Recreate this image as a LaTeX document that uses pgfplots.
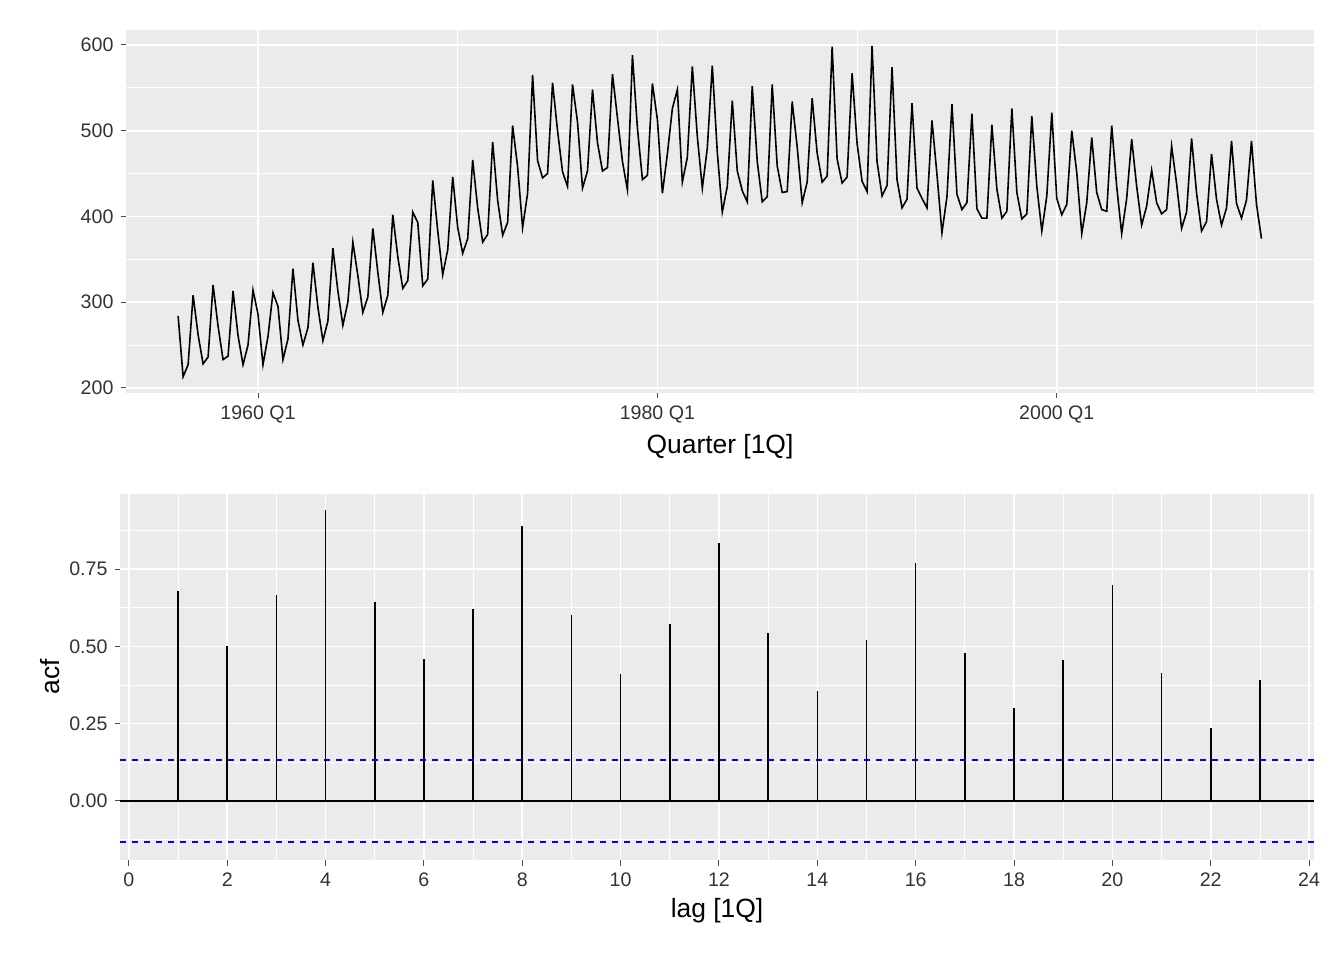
\documentclass[border=0pt]{standalone}
\usepackage{pgfplots}
\pgfplotsset{compat=1.18}
\usepackage{pgfplotstable}
\usepackage{fontspec}
\setmainfont{Liberation Sans}
\definecolor{bg}{gray}{0.92}
\definecolor{tk}{gray}{0.30}
\definecolor{tc}{gray}{0.2}
\pgfplotstableread{
v
284
213
227
308
262
228
236
320
272
233
237
313
261
227
250
314
286
227
260
311
295
233
257
339
279
250
270
346
294
255
278
363
313
273
300
370
331
288
306
386
335
288
308
402
353
316
325
405
393
319
327
442
383
332
361
446
387
357
374
466
410
370
379
487
419
378
393
506
458
387
427
565
465
445
450
556
500
452
435
554
510
433
453
548
486
453
457
566
515
464
431
588
503
443
448
555
513
427
473
526
548
440
469
575
493
433
480
576
475
405
435
535
453
430
417
552
464
417
423
554
459
428
429
534
481
416
440
538
474
440
447
598
467
439
446
567
485
441
429
599
464
424
436
574
443
410
420
532
433
421
410
512
449
381
423
531
426
408
416
520
409
398
398
507
432
398
406
526
428
397
403
517
435
383
424
521
421
402
414
500
451
380
416
492
428
408
406
506
435
380
421
490
435
390
412
454
416
403
408
482
438
386
405
491
427
383
394
473
420
390
410
488
415
398
419
488
414
374
}\beer
\pgfplotstableread{
lag acf
1 0.68
2 0.50
3 0.665
4 0.94
5 0.645
6 0.46
7 0.62
8 0.89
9 0.60
10 0.41
11 0.572
12 0.835
13 0.543
14 0.355
15 0.52
16 0.77
17 0.48
18 0.30
19 0.455
20 0.70
21 0.415
22 0.235
23 0.39
}\acf
\pgfplotsset{gg/.style={
  scale only axis, axis background/.style={fill=bg}, axis line style={draw=none},
  grid=both, major grid style={white, line width=0.8pt}, minor grid style={white, line width=0.4pt},
  tick align=outside, major tick length=2.75pt, minor tick length=0pt,
  tick style={tk, line width=0.5pt}, ticklabel style={font=\fontsize{9.8}{11}\selectfont, text=tc},
  /pgf/number format/assume math mode=true,
  label style={font=\fontsize{13.2}{15}\selectfont},
  xtick pos=bottom, ytick pos=left,
}}
\begin{document}
\begin{tikzpicture}
\path (0,0) rectangle (672pt,480pt);
\begin{axis}[gg, anchor=south west, at={(63pt,283.5pt)}, width=594pt, height=181.5pt,
  xmin=1953.39, xmax=2012.88, ymin=194, ymax=617.5,
  xtick={1960,1980,2000}, xticklabels={1960 Q1,1980 Q1,2000 Q1},
  minor xtick={1970,1990,2010}, ytick={200,300,400,500,600}, minor ytick={250,350,450,550},
  xlabel={Quarter [1Q]}, xlabel style={yshift=1pt}]
\addplot[black, line width=0.8pt, mark=none] table[x expr=1956+\coordindex/4, y=v]{\beer};
\end{axis}
\begin{axis}[gg, anchor=south west, at={(60pt,50pt)}, width=597pt, height=183pt,
  xmin=-0.18, xmax=24.1, ymin=-0.191, ymax=0.993,
  xtick={0,2,...,24}, minor xtick={1,3,...,23},
  ytick={0,0.25,0.5,0.75}, minor ytick={-0.125,0.125,0.375,0.625,0.875},
  yticklabel style={/pgf/number format/.cd, fixed, fixed zerofill, precision=2},
  xlabel={lag [1Q]}, ylabel={acf}, xlabel style={yshift=1pt}, ylabel style={yshift=-2pt}]
\addplot[black, line width=0.8pt] coordinates {(-0.18,0) (24.1,0)};
\addplot[ycomb, black, line width=0.8pt, mark=none] table[x=lag, y=acf]{\acf};
\addplot[blue, dashed, line width=0.8pt] coordinates {(-0.18,0.1327) (24.1,0.1327)};
\addplot[blue, dashed, line width=0.8pt] coordinates {(-0.18,-0.1327) (24.1,-0.1327)};
\end{axis}
\end{tikzpicture}
\end{document}
